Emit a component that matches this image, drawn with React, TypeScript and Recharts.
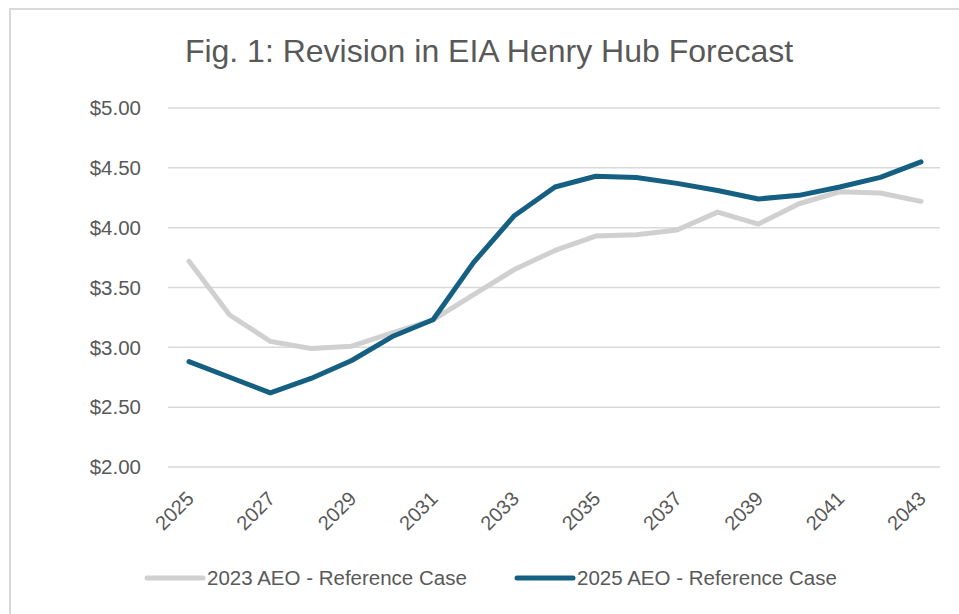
import { LineChart, Line, XAxis, YAxis, CartesianGrid } from 'recharts'

// Henry Hub price forecasts, $/MMBtu
const years = ['2025', '2026', '2027', '2028', '2029', '2030', '2031', '2032', '2033', '2034', '2035', '2036', '2037', '2038', '2039', '2040', '2041', '2042', '2043']
const aeo2023 = [3.72, 3.27, 3.05, 2.99, 3.01, 3.12, 3.23, 3.44, 3.65, 3.81, 3.93, 3.94, 3.98, 4.13, 4.03, 4.2, 4.3, 4.29, 4.22]
const aeo2025 = [2.88, 2.75, 2.62, 2.74, 2.89, 3.09, 3.23, 3.71, 4.1, 4.34, 4.43, 4.42, 4.37, 4.31, 4.24, 4.27, 4.34, 4.42, 4.55]
const yTicks = [2, 2.5, 3, 3.5, 4, 4.5, 5]

const series = [
  { key: 'aeo2023', name: '2023 AEO - Reference Case', color: '#d0d0d0', legendX: 147 },
  { key: 'aeo2025', name: '2025 AEO - Reference Case', color: '#156082', legendX: 517 },
]

const data = years.map((year, i) => ({ year, aeo2023: aeo2023[i], aeo2025: aeo2025[i] }))

const FONT = "'Liberation Sans', Arial, sans-serif"
const TEXT = '#595959'

const YearTick = (props: any) => {
  const { x, y, payload } = props
  return (
    <g transform={`translate(${x + 6}, ${y + 25})`}>
      <text transform="rotate(-45)" textAnchor="end" fill={TEXT} fontSize={20} fontFamily={FONT}>
        {payload.value}
      </text>
    </g>
  )
}

export default function App() {
  return (
    <div style={{ position: 'fixed', left: 0, top: 0, width: 959, height: 614, overflow: 'hidden', background: '#fff' }}>
      <div style={{ position: 'absolute', left: 9, top: 8, width: 980, height: 640, border: '2px solid #d9d9d9' }} />
      <div style={{ position: 'absolute', left: 0, top: 0 }}>
        <LineChart width={959} height={614} data={data} margin={{ top: 108, right: 19, left: 0, bottom: 87 }}>
          <CartesianGrid vertical={false} stroke="#d9d9d9" strokeWidth={1.5} />
          <XAxis
            dataKey="year"
            interval={1}
            height={60}
            padding={{ left: 21, right: 19 }}
            axisLine={false}
            tickLine={false}
            tick={<YearTick />}
          />
          <YAxis
            width={168}
            domain={[2, 5]}
            ticks={yTicks}
            axisLine={false}
            tickLine={false}
            tickMargin={21}
            tick={{ fill: TEXT, fontSize: 20.5, fontFamily: FONT }}
            tickFormatter={(v: number) => `$${v.toFixed(2)}`}
          />
          {series.map((s) => (
            <Line
              key={s.key}
              type="linear"
              dataKey={s.key}
              name={s.name}
              stroke={s.color}
              strokeWidth={5}
              strokeLinecap="round"
              strokeLinejoin="round"
              dot={false}
              activeDot={false}
              isAnimationActive={false}
            />
          ))}
        </LineChart>
      </div>
      <svg width={959} height={614} style={{ position: 'absolute', left: 0, top: 0, pointerEvents: 'none' }}>
        <text x={489} y={62} textAnchor="middle" fill={TEXT} fontSize={32} fontFamily={FONT}>
          Fig. 1: Revision in EIA Henry Hub Forecast
        </text>
        {series.map((s) => (
          <g key={s.key}>
            <line x1={s.legendX} x2={s.legendX + 56} y1={578} y2={578} stroke={s.color} strokeWidth={5} strokeLinecap="round" />
            <text x={s.legendX + 60} y={585} fill={TEXT} fontSize={20.5} fontFamily={FONT}>
              {s.name}
            </text>
          </g>
        ))}
      </svg>
    </div>
  )
}
